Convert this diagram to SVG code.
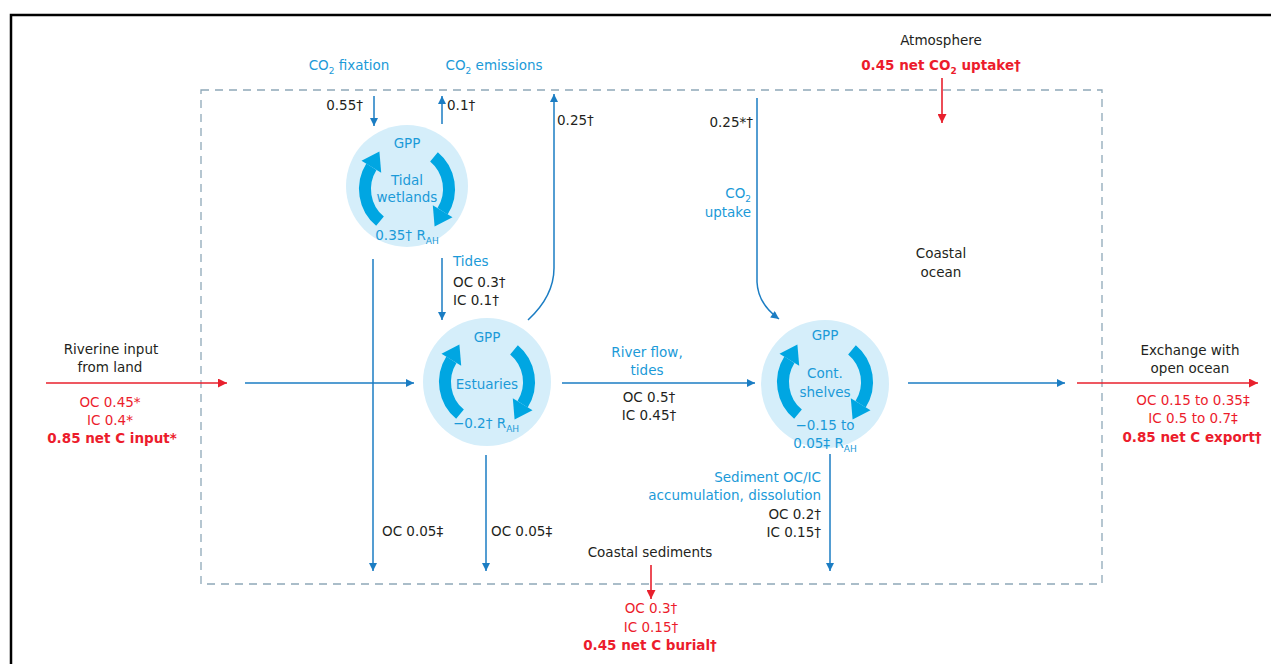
<svg xmlns="http://www.w3.org/2000/svg" width="1271" height="664" viewBox="0 0 1271 664">
<style>
.t{font-family:"DejaVu Sans","Liberation Sans",sans-serif;font-size:13.5px;fill:#231f20}
.b{fill:#1b9ad8}
.r{fill:#ec1c2c}
.bd{font-weight:bold}
.m{text-anchor:middle}
.e{text-anchor:end}
.ln{stroke:#1b7dc3;stroke-width:1.5;fill:none;marker-end:url(#ab)}
.rl{stroke:#e8202d;stroke-width:1.6;fill:none;marker-end:url(#ar)}
.cir{fill:#d5eefa}
.arc{stroke:#00a6e2;stroke-width:12;fill:none}
.hd{fill:#00a6e2}
</style>
<defs>
<marker id="ab" markerUnits="userSpaceOnUse" viewBox="0 0 10 10" refX="10" refY="5" markerWidth="9" markerHeight="8" orient="auto"><path d="M0,0 L10,5 L0,10 z" fill="#1b7dc3"/></marker>
<marker id="ar" markerUnits="userSpaceOnUse" viewBox="0 0 10 10" refX="10" refY="5" markerWidth="10" markerHeight="9" orient="auto"><path d="M0,0 L10,5 L0,10 z" fill="#e8202d"/></marker>
<g id="cyc">
<path class="arc" d="M -27 32.2 A 42 42 0 0 1 -35.6 -22.3"/>
<polygon class="hd" points="-27.6,-37.5 -45.5,-28.3 -25.8,-16.2"/>
<path class="arc" d="M 27 -32.2 A 42 42 0 0 1 35.6 22.3"/>
<polygon class="hd" points="27.6,37.5 45.5,28.3 25.8,16.2"/>
</g>
</defs>
<rect width="1271" height="664" fill="#fff"/>
<path d="M 11 664 V 15 H 1271" stroke="#000" stroke-width="2.5" fill="none"/>
<rect x="201" y="90" width="901" height="494" fill="none" stroke="#8ea8b8" stroke-width="1.3" stroke-dasharray="8 6"/>

<g id="connectors">
<path class="ln" d="M 374 96 V 126"/>
<path class="ln" d="M 442 124 V 96"/>
<path class="ln" d="M 528 320 Q 554 296 554 268 V 94"/>
<path class="ln" d="M 757 98 V 282 Q 758 304 779 319"/>
<path class="ln" d="M 442 258 V 320"/>
<path class="ln" d="M 373 259 V 571"/>
<path class="ln" d="M 245 383 H 414"/>
<path class="ln" d="M 486 455 V 571"/>
<path class="ln" d="M 562 383 H 755"/>
<path class="ln" d="M 908 383 H 1065"/>
<path class="ln" d="M 830 454 V 571"/>
<path class="rl" d="M 942 78 V 123"/>
<path class="rl" d="M 651 565 V 599"/>
<path class="rl" d="M 46 383 H 227"/>
<path class="rl" d="M 1077 383 H 1258"/>
</g>

<g id="tidal-wetlands">
<circle class="cir" cx="407" cy="186" r="61"/>
<use href="#cyc" transform="translate(407,189)"/>
<text class="t b m" x="407" y="148">GPP</text>
<text class="t b m" x="407" y="185">Tidal</text>
<text class="t b m" x="407" y="202">wetlands</text>
<text class="t b m" x="407" y="240">0.35† R<tspan font-size="9" dy="4">AH</tspan></text>
</g>

<g id="estuaries">
<circle class="cir" cx="487" cy="382" r="64"/>
<use href="#cyc" transform="translate(487,382)"/>
<text class="t b m" x="487" y="342">GPP</text>
<text class="t b m" x="487" y="389">Estuaries</text>
<text class="t b m" x="486" y="428">−0.2† R<tspan font-size="9" dy="4">AH</tspan></text>
</g>

<g id="cont-shelves">
<circle class="cir" cx="825" cy="384" r="64"/>
<use href="#cyc" transform="translate(825,382)"/>
<text class="t b m" x="825" y="340">GPP</text>
<text class="t b m" x="825" y="378">Cont.</text>
<text class="t b m" x="825" y="397">shelves</text>
<text class="t b m" x="825" y="430">−0.15 to</text>
<text class="t b m" x="825" y="448">0.05‡ R<tspan font-size="9" dy="4">AH</tspan></text>
</g>

<g id="labels">
<text class="t b m" x="349" y="70">CO<tspan font-size="9" dy="4">2</tspan><tspan dy="-4"> fixation</tspan></text>
<text class="t b m" x="494" y="70">CO<tspan font-size="9" dy="4">2</tspan><tspan dy="-4"> emissions</tspan></text>
<text class="t e" x="363" y="110">0.55†</text>
<text class="t" x="447" y="110">0.1†</text>
<text class="t" x="557" y="125">0.25†</text>
<text class="t e" x="753" y="127">0.25*†</text>
<text class="t b e" x="751" y="198">CO<tspan font-size="9" dy="4">2</tspan></text>
<text class="t b e" x="751" y="217">uptake</text>
<text class="t m" x="941" y="45">Atmosphere</text>
<text class="t r bd m" x="941" y="70">0.45 net CO<tspan font-size="9" dy="4">2</tspan><tspan dy="-4"> uptake†</tspan></text>
<text class="t m" x="941" y="258">Coastal</text>
<text class="t m" x="941" y="277">ocean</text>
<text class="t b" x="453" y="266">Tides</text>
<text class="t" x="453" y="287">OC 0.3†</text>
<text class="t" x="453" y="305">IC 0.1†</text>
<text class="t b m" x="647" y="357">River flow,</text>
<text class="t b m" x="647" y="375">tides</text>
<text class="t m" x="649" y="402">OC 0.5†</text>
<text class="t m" x="649" y="420">IC 0.45†</text>
<text class="t" x="382" y="536">OC 0.05‡</text>
<text class="t" x="491" y="536">OC 0.05‡</text>
<text class="t b e" x="821" y="482">Sediment OC/IC</text>
<text class="t b e" x="821" y="500">accumulation, dissolution</text>
<text class="t e" x="821" y="519">OC 0.2†</text>
<text class="t e" x="821" y="537">IC 0.15†</text>
<text class="t m" x="650" y="557">Coastal sediments</text>
<text class="t r m" x="651" y="613">OC 0.3†</text>
<text class="t r m" x="651" y="632">IC 0.15†</text>
<text class="t r bd m" x="650" y="650">0.45 net C burial†</text>
<text class="t m" x="111" y="354">Riverine input</text>
<text class="t m" x="110" y="372">from land</text>
<text class="t r m" x="110" y="407">OC 0.45*</text>
<text class="t r m" x="110" y="425">IC 0.4*</text>
<text class="t r bd m" x="112" y="443">0.85 net C input*</text>
<text class="t m" x="1190" y="355">Exchange with</text>
<text class="t m" x="1190" y="373">open ocean</text>
<text class="t r m" x="1193" y="405">OC 0.15 to 0.35‡</text>
<text class="t r m" x="1193" y="423">IC 0.5 to 0.7‡</text>
<text class="t r bd m" x="1192" y="442">0.85 net C export†</text>
</g>
</svg>
